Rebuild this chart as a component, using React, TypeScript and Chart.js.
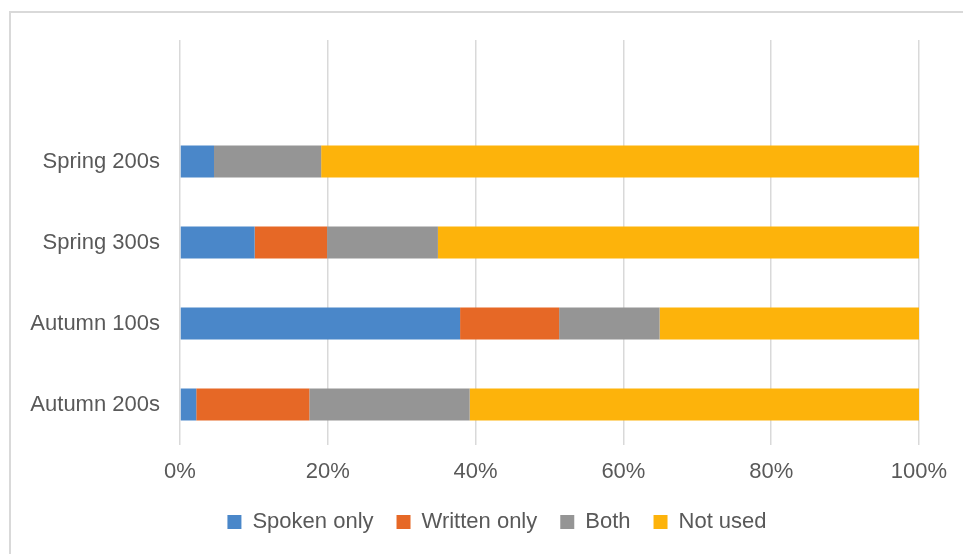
import React, { useEffect, useRef } from "react";
import { Chart, registerables } from "chart.js";

Chart.register(...registerables);

const categories = ["Spring 200s", "Spring 300s", "Autumn 100s", "Autumn 200s"];
const spokenOnly = [4.6, 10.1, 37.9, 2.2];
const writtenOnly = [0, 9.8, 13.4, 15.3];
const both = [14.5, 15.0, 13.6, 21.7];
const notUsed = [80.9, 65.1, 35.1, 60.8];
const xTicks = [0, 20, 40, 60, 80, 100];

const seriesNames = ["Spoken only", "Written only", "Both", "Not used"];
const seriesColors = ["#4a87c9", "#e66826", "#959595", "#fdb30b"];

const FONT = "'Liberation Sans', Arial, sans-serif";
const TEXT = "#595959";

// nudges the centred legend so it sits under the plot like in the source
const legendShift = {
  id: "legendShift",
  afterLayout(chart: any) {
    const lg = chart.legend;
    if (!lg) return;
    lg.left += 32;
    lg.right += 32;
  },
};

export default function App() {
  const ref = useRef<HTMLCanvasElement | null>(null);

  useEffect(() => {
    if (!ref.current) return;
    const labels = ["", ...categories];
    const series = [spokenOnly, writtenOnly, both, notUsed];
    const chart = new Chart(ref.current, {
      type: "bar",
      data: {
        labels,
        datasets: series.map((vals, i) => ({
          label: seriesNames[i],
          data: [null, ...vals],
          backgroundColor: seriesColors[i],
          borderWidth: 0,
          categoryPercentage: 1,
          barPercentage: 0.395,
        })),
      },
      options: {
        indexAxis: "y",
        animation: false,
        responsive: false,
        devicePixelRatio: 1,
        layout: { padding: { top: 27, right: 44, left: 0, bottom: 15 } },
        plugins: {
          tooltip: { enabled: false },
          legend: {
            position: "bottom",
            labels: {
              boxWidth: 14,
              boxHeight: 14,
              padding: 23,
              color: TEXT,
              font: { family: FONT, size: 22 },
            },
          },
        },
        scales: {
          x: {
            stacked: true,
            min: 0,
            max: 100,
            afterBuildTicks: (s: any) => {
              s.ticks = xTicks.map((v) => ({ value: v }));
            },
            afterFit: (s: any) => {
              s.height = s.height - 11.4;
            },
            border: { display: false },
            grid: { color: "#d9d9d9", lineWidth: 1.5, drawTicks: false },
            ticks: {
              padding: 14,
              color: TEXT,
              font: { family: FONT, size: 22 },
              callback: (v: any) => v + "%",
            },
          },
          y: {
            stacked: true,
            afterFit: (s: any) => {
              s.width = 169;
            },
            border: { display: false },
            grid: { display: false, drawTicks: true, tickLength: 17 },
            ticks: {
              padding: 3,
              color: TEXT,
              font: { family: FONT, size: 22 },
            },
          },
        },
      },
      plugins: [legendShift],
    });
    return () => chart.destroy();
  }, []);

  return (
    <div style={{ position: "fixed", inset: 0, overflow: "hidden", background: "#fff" }}>
      <div
        style={{
          position: "absolute",
          left: 9,
          top: 11,
          width: 980,
          height: 600,
          border: "2px solid #d9d9d9",
          boxSizing: "border-box",
        }}
      >
        <canvas ref={ref} width={952} height={545} style={{ display: "block" }} />
      </div>
    </div>
  );
}
